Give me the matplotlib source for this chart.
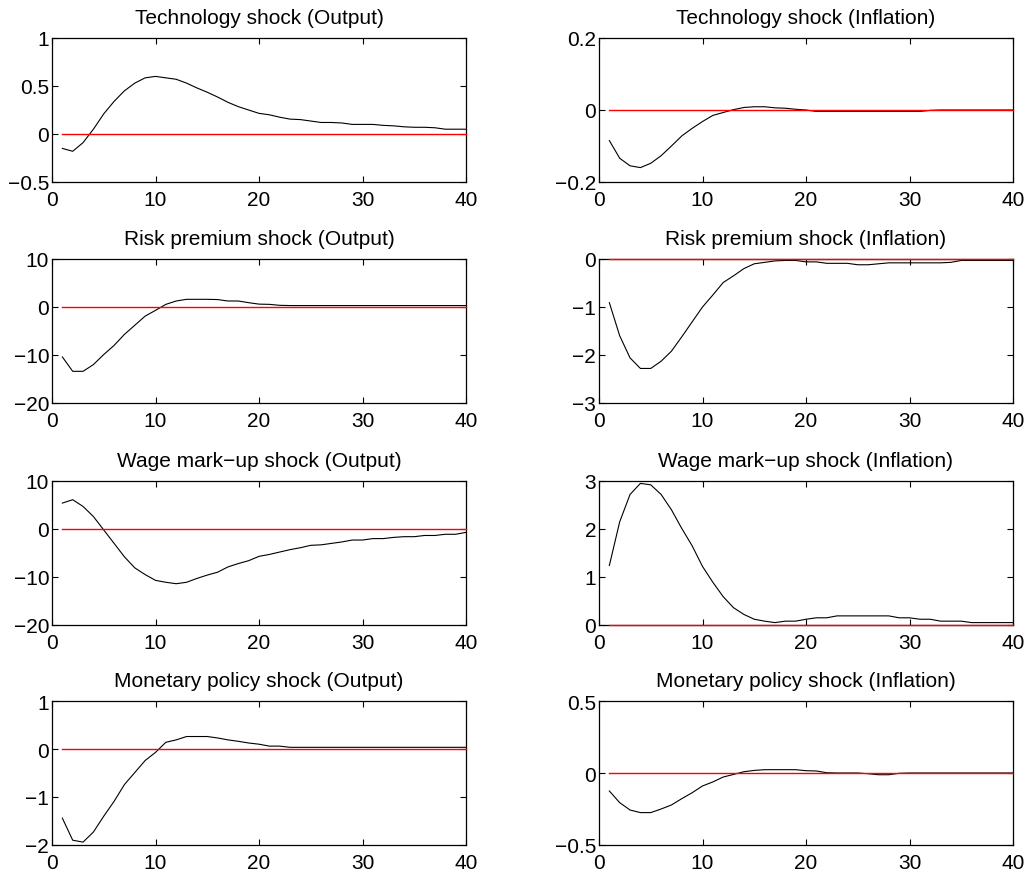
import numpy as np
import matplotlib
matplotlib.use("Agg")
import matplotlib.pyplot as plt

# Горизонт (кварталы)
periods = list(range(1, 41))

tech_output = [-0.15, -0.18, -0.09, 0.05, 0.21, 0.34, 0.45, 0.53, 0.585, 0.60,
               0.585, 0.57, 0.53, 0.48, 0.435, 0.385, 0.33, 0.285, 0.25, 0.215,
               0.20, 0.175, 0.155, 0.15, 0.135, 0.12, 0.12, 0.115, 0.10, 0.10,
               0.10, 0.09, 0.085, 0.075, 0.07, 0.07, 0.065, 0.05, 0.05, 0.05]
tech_infl = [-0.085, -0.134, -0.155, -0.16, -0.148, -0.127, -0.10, -0.072, -0.051, -0.032,
             -0.015, -0.007, 0.001, 0.007, 0.009, 0.009, 0.006, 0.005, 0.002, 0.0,
             -0.004, -0.004, -0.004, -0.004, -0.004, -0.004, -0.004, -0.004, -0.004, -0.004,
             -0.004, -0.001, 0.0, 0.0, 0.0, 0.0, 0.0, 0.0, 0.0, 0.0]
risk_output = [-10.4, -13.4, -13.4, -12.0, -9.9, -8.0, -5.7, -3.8, -1.9, -0.7,
               0.55, 1.25, 1.6, 1.6, 1.6, 1.55, 1.25, 1.25, 0.9, 0.6,
               0.55, 0.35, 0.3, 0.3, 0.3, 0.3, 0.3, 0.3, 0.3, 0.3,
               0.3, 0.3, 0.3, 0.3, 0.3, 0.3, 0.3, 0.3, 0.3, 0.3]
risk_infl = [-0.91, -1.6, -2.06, -2.28, -2.28, -2.13, -1.92, -1.62, -1.31, -1.0,
             -0.75, -0.49, -0.35, -0.2, -0.1, -0.07, -0.04, -0.03, -0.03, -0.06,
             -0.06, -0.09, -0.09, -0.09, -0.12, -0.12, -0.1, -0.08, -0.08, -0.08,
             -0.08, -0.08, -0.08, -0.07, -0.03, -0.03, -0.03, -0.03, -0.03, -0.03]
wage_output = [5.4, 6.1, 4.7, 2.6, -0.2, -3.0, -5.8, -8.1, -9.5, -10.7,
               -11.1, -11.4, -11.1, -10.3, -9.6, -9.0, -7.9, -7.2, -6.6, -5.7,
               -5.3, -4.8, -4.3, -3.9, -3.4, -3.3, -3.0, -2.7, -2.3, -2.3,
               -2.0, -2.0, -1.75, -1.6, -1.6, -1.35, -1.35, -1.1, -1.1, -0.7]
wage_infl = [1.24, 2.15, 2.72, 2.95, 2.92, 2.72, 2.4, 2.01, 1.65, 1.22,
             0.89, 0.59, 0.36, 0.22, 0.12, 0.08, 0.05, 0.08, 0.08, 0.12,
             0.15, 0.15, 0.19, 0.19, 0.19, 0.19, 0.19, 0.19, 0.15, 0.15,
             0.12, 0.12, 0.08, 0.08, 0.08, 0.05, 0.05, 0.05, 0.05, 0.05]
mon_output = [-1.44, -1.9, -1.94, -1.73, -1.4, -1.09, -0.74, -0.49, -0.24, -0.07,
              0.14, 0.19, 0.26, 0.26, 0.26, 0.23, 0.19, 0.16, 0.125, 0.1,
              0.06, 0.06, 0.035, 0.035, 0.035, 0.035, 0.035, 0.035, 0.035, 0.035,
              0.035, 0.035, 0.035, 0.035, 0.035, 0.035, 0.035, 0.035, 0.035, 0.035]
mon_infl = [-0.125, -0.206, -0.257, -0.275, -0.275, -0.25, -0.222, -0.178, -0.137, -0.09,
            -0.062, -0.028, -0.01, 0.009, 0.018, 0.023, 0.023, 0.023, 0.023, 0.016,
            0.014, 0.002, 0.0, 0.0, 0.0, -0.005, -0.012, -0.012, -0.002, 0.0,
            0.0, 0.0, 0.0, 0.0, 0.0, 0.0, 0.0, 0.0, 0.0, 0.0]

titles = ['Technology shock (Output)', 'Technology shock (Inflation)',
          'Risk premium shock (Output)', 'Risk premium shock (Inflation)',
          'Wage mark\u2212up shock (Output)', 'Wage mark\u2212up shock (Inflation)',
          'Monetary policy shock (Output)', 'Monetary policy shock (Inflation)']
series = [tech_output, tech_infl, risk_output, risk_infl,
          wage_output, wage_infl, mon_output, mon_infl]
y_ticks = [[-0.5, 0, 0.5, 1], [-0.2, 0, 0.2],
           [-20, -10, 0, 10], [-3, -2, -1, 0],
           [-20, -10, 0, 10], [0, 1, 2, 3],
           [-2, -1, 0, 1], [-0.5, 0, 0.5]]
x_ticks = [0, 10, 20, 30, 40]

plt.rcParams['font.family'] = ['Liberation Sans', 'DejaVu Sans']
plt.rcParams['font.size'] = 15

fig = plt.figure(figsize=(10.33, 8.78), dpi=100)

# Положение осей (в долях фигуры)
col_left = [52 / 1033, 599 / 1033]
col_width = 414 / 1033
row_top_px = [39, 260, 482, 702]
row_h_px = 144

for i, (title, values, yt) in enumerate(zip(titles, series, y_ticks)):
    row, col = divmod(i, 2)
    bottom = 1 - (row_top_px[row] + row_h_px) / 878
    ax = fig.add_axes([col_left[col], bottom, col_width, row_h_px / 878])

    ax.plot(periods, values, color='black', linewidth=0.8)
    ax.plot(periods, np.zeros(len(periods)), color='red', linewidth=1.0,
            clip_on=False, zorder=5)

    ax.set_xlim(0, 40)
    ax.set_ylim(yt[0], yt[-1])
    ax.set_xticks(x_ticks)
    ax.set_yticks(yt)
    ax.set_yticklabels([('%g' % v).replace('-', '\u2212') for v in yt])
    ax.tick_params(direction='in', length=4, width=0.8, top=True, right=True,
                   labelsize=15)
    ax.tick_params(axis='y', pad=2)
    ax.tick_params(axis='x', pad=6)
    for spine in ax.spines.values():
        spine.set_linewidth(0.9)
    ax.set_title(title, fontsize=15, pad=11)

fig.savefig('out.png', dpi=100)
